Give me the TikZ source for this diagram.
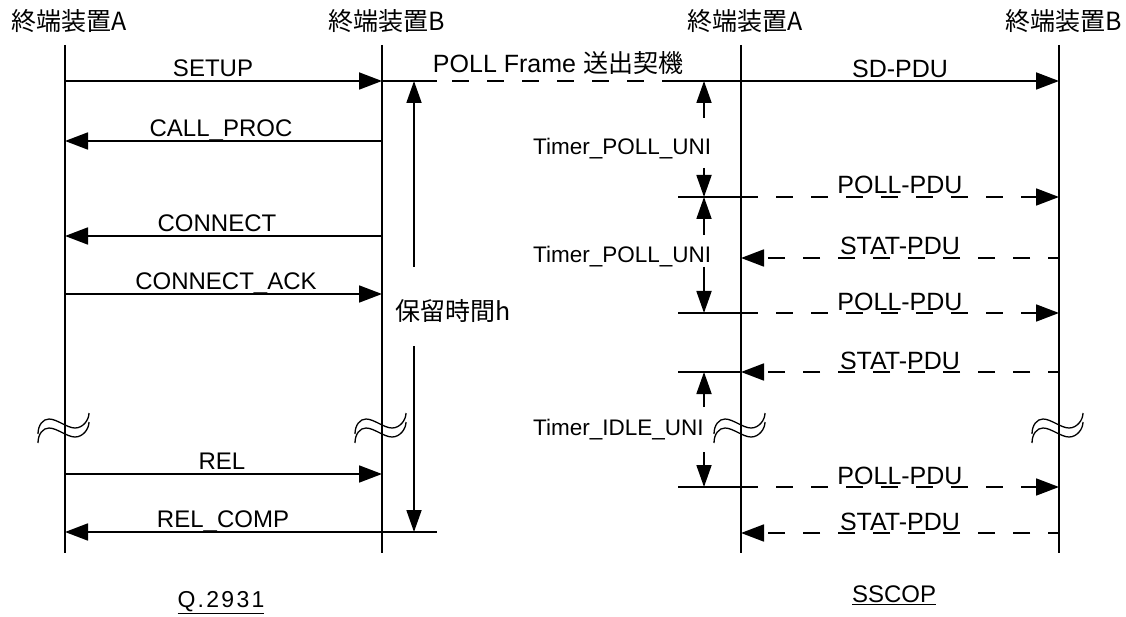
\documentclass[tikz,border=0pt]{standalone}
\usepackage{fontspec}
\setmainfont{Liberation Sans}
\newfontfamily\cjk{Noto Sans CJK JP}
\newfontfamily\lsp[LetterSpace=10]{Liberation Sans}
\usetikzlibrary{arrows.meta}
\tikzset{
  life/.style={line width=1.3pt},
  msg/.style={line width=1.8pt,-{Triangle[length=23pt,width=17pt]}},
  dmsg/.style={msg, dash pattern=on 17pt off 18pt},
  dmsgb/.style={msg, dash pattern=on 17pt off 18pt, dash phase=6pt},
  dline/.style={line width=1.8pt, dash pattern=on 17pt off 18pt},
  tickline/.style={line width=1.8pt},
  tarr/.style={line width=1.8pt,-{Triangle[length=22pt,width=15pt]}},
  lbl/.style={anchor=base, font=\fontsize{24}{24}\selectfont, inner sep=0pt},
  plbl/.style={anchor=base, font=\fontsize{25}{25}\selectfont, inner sep=0pt},
  tlbl/.style={anchor=base west, font=\fontsize{22.5}{22.5}\selectfont, inner sep=0pt},
  head/.style={font=\cjk\fontsize{25}{25}\selectfont, inner sep=0pt},
  foot/.style={inner sep=0pt},
  squig/.pic={
    \draw[line width=1.3pt] (-27,5) .. controls (-27,-4) and (-22,-10) .. (-16,-10)
      .. controls (-8,-10) and (2,-1) .. (10,-1) .. controls (18,-1) and (24,-9) .. (24,-16);
    \draw[line width=1.3pt] (-27,14) .. controls (-27,5) and (-22,-1) .. (-16,-1)
      .. controls (-8,-1) and (2,8) .. (10,8) .. controls (18,8) and (24,0) .. (24,-7);
  }
}
\begin{document}
\begin{tikzpicture}[x=1pt,y=-1pt]
\useasboundingbox (0,0) rectangle (1126,617);

% headers
\node[head] (hA1) at (69,21) {終端装置A};
\node[head] (hB1) at (387,21) {終端装置B};
\node[head] (hA2) at (745,21) {終端装置A};
\node[head] (hB2) at (1064,21) {終端装置B};

% lifelines
\coordinate (A1t) at (65,45);  \coordinate (A1b) at (65,553);
\coordinate (B1t) at (382,45); \coordinate (B1b) at (382,553);
\coordinate (A2t) at (741,45); \coordinate (A2b) at (741,553);
\coordinate (B2t) at (1059,45); \coordinate (B2b) at (1059,553);
\draw[life] (A1t) -- (A1b);
\draw[life] (B1t) -- (B1b);
\draw[life] (A2t) -- (A2b);
\draw[life] (B2t) -- (B2b);

% squiggles
\pic at (65,429) {squig};
\pic at (382,429) {squig};
\pic at (741,429) {squig};
\pic at (1059,429) {squig};

% Q.2931 messages
\coordinate (a1) at (65,81);   \coordinate (b1) at (382,81);
\coordinate (a2) at (65,141);  \coordinate (b2) at (382,141);
\coordinate (a3) at (65,236);  \coordinate (b3) at (382,236);
\coordinate (a4) at (65,294);  \coordinate (b4) at (382,294);
\coordinate (a5) at (65,474);  \coordinate (b5) at (382,474);
\coordinate (a6) at (65,532);  \coordinate (b6) at (382,532);
\draw[msg] (a1) -- (b1);
\draw[msg] (b2) -- (a2);
\draw[msg] (b3) -- (a3);
\draw[msg] (a4) -- (b4);
\draw[msg] (a5) -- (b5);
\draw[msg] (b6) -- (a6);
\node[lbl] (l1) at (213,76.5) {SETUP};
\node[lbl] (l2) at (221,136.5) {CALL\_PROC};
\node[lbl] (l3) at (217,231.5) {CONNECT};
\node[lbl] (l4) at (226,289.5) {CONNECT\_ACK};
\node[lbl] (l5) at (222,469.5) {REL};
\node[lbl] (l6) at (223,527.5) {REL\_COMP};

% hold time
\coordinate (h1) at (437,81);  \coordinate (h2) at (437,532);
\draw[tickline] (b1) -- (h1);
\draw[tickline] (b6) -- (h2);
\node[font=\cjk\fontsize{25}{25}\selectfont, anchor=west, inner sep=0pt] (hold) at (395,311) {保留時間h};
\coordinate (hu) at (414,267); \coordinate (hut) at (414,81);
\coordinate (hd) at (414,346); \coordinate (hdt) at (414,532);
\draw[tarr] (hu) -- (hut);
\draw[tarr] (hd) -- (hdt);

% POLL frame line
\coordinate (p0) at (741,81);
\draw[dline] (b1) -- (p0);
\node[font=\fontsize{25}{25}\selectfont, anchor=base, inner sep=0pt] (pf) at (558,73) {POLL Frame {\cjk 送出契機}};

% SSCOP messages
\coordinate (c1) at (741,81);  \coordinate (d1) at (1059,81);
\coordinate (c2) at (741,197); \coordinate (d2) at (1059,197);
\coordinate (c3) at (741,258); \coordinate (d3) at (1059,258);
\coordinate (c4) at (741,313); \coordinate (d4) at (1059,313);
\coordinate (c5) at (741,372); \coordinate (d5) at (1059,372);
\coordinate (c6) at (741,487); \coordinate (d6) at (1059,487);
\coordinate (c7) at (741,533); \coordinate (d7) at (1059,533);
\draw[msg] (c1) -- (d1);
\draw[dmsg] (c2) -- (d2);
\draw[dmsgb] (d3) -- (c3);
\draw[dmsg] (c4) -- (d4);
\draw[dmsgb] (d5) -- (c5);
\draw[dmsg] (c6) -- (d6);
\draw[dmsgb] (d7) -- (c7);
\node[plbl] (m1) at (900,78) {SD-PDU};
\node[plbl] (m2) at (900,194) {POLL-PDU};
\node[plbl] (m3) at (900,255) {STAT-PDU};
\node[plbl] (m4) at (900,310) {POLL-PDU};
\node[plbl] (m5) at (900,369) {STAT-PDU};
\node[plbl] (m6) at (900,484) {POLL-PDU};
\node[plbl] (m7) at (900,530) {STAT-PDU};

% timer ticks
\coordinate (k1) at (678,81);
\coordinate (k2) at (678,197);
\coordinate (k4) at (678,313);
\coordinate (k5) at (678,372);
\coordinate (k6) at (678,487);
\draw[tickline] (k1) -- (c1);
\draw[tickline] (k2) -- (c2);
\draw[tickline] (k4) -- (c4);
\draw[tickline] (k5) -- (c5);
\draw[tickline] (k6) -- (c6);

% timers
\coordinate (t1u) at (704,118); \coordinate (t1ut) at (704,81);
\coordinate (t1d) at (704,168); \coordinate (t1dt) at (704,197);
\coordinate (t2u) at (704,235); \coordinate (t2ut) at (704,197);
\coordinate (t2d) at (704,267); \coordinate (t2dt) at (704,313);
\coordinate (t3u) at (704,407); \coordinate (t3ut) at (704,372);
\coordinate (t3d) at (704,452); \coordinate (t3dt) at (704,487);
\draw[tarr] (t1u) -- (t1ut);
\draw[tarr] (t1d) -- (t1dt);
\draw[tarr] (t2u) -- (t2ut);
\draw[tarr] (t2d) -- (t2dt);
\draw[tarr] (t3u) -- (t3ut);
\draw[tarr] (t3d) -- (t3dt);
\node[tlbl] (tl1) at (533,155) {Timer\_POLL\_UNI};
\node[tlbl] (tl2) at (533,263) {Timer\_POLL\_UNI};
\node[tlbl] (tl3) at (533,435) {Timer\_IDLE\_UNI};

% footers
\node[foot, font=\lsp\fontsize{23}{23}\selectfont] (q) at (221,603) {\underline{Q.2931}};
\node[foot, font=\fontsize{24}{24}\selectfont] (s) at (894,595) {\underline{SSCOP}};
\end{tikzpicture}
\end{document}
